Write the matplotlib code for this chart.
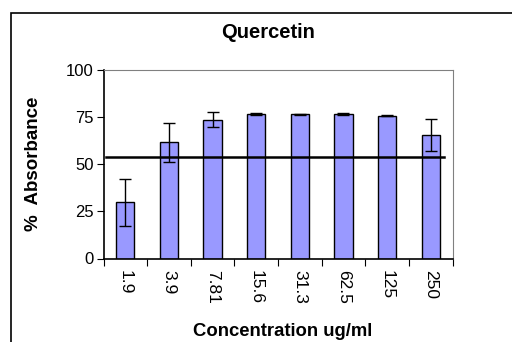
import matplotlib
matplotlib.use("Agg")
import matplotlib.pyplot as plt
from matplotlib.patches import Rectangle

plt.rcParams['font.family'] = ['Liberation Sans', 'DejaVu Sans']

# concentrations (ug/ml) and mean % absorbance with error
conc = ['1.9', '3.9', '7.81', '15.6', '31.3', '62.5', '125', '250']
absorb = [29.7, 61.6, 73.4, 76.3, 76.3, 76.3, 75.6, 65.3]
err = [12.6, 10.3, 4.0, 0.5, 0.2, 0.5, 0.2, 8.5]
ref_level = 53.9

fig = plt.figure(figsize=(5.12, 3.42), dpi=100)
ax = fig.add_axes([103.5/512, 1 - 258.5/342, 349/512, 189/342])

x = range(len(conc))
ax.bar(x, absorb, width=0.42, color='#9999FF', edgecolor='black', linewidth=1.0, zorder=2)
ax.errorbar(x, absorb, yerr=err, fmt='none', ecolor='black', elinewidth=1.0,
            capsize=4, capthick=1.0, zorder=3)
ax.plot([-0.44, 7.3], [ref_level, ref_level], color='black', linewidth=1.8, zorder=4)

ax.set_xlim(-0.5, 7.5)
ax.set_ylim(0, 100)
ax.set_yticks([0, 25, 50, 75, 100])
ax.tick_params(axis='y', labelsize=12, length=5, direction='out', pad=2)

ax.set_xticks([i + 0.5 for i in range(-1, 8)], minor=False)
ax.set_xticklabels([])
ax.set_xticks(list(x), minor=True)
ax.set_xticklabels(conc, minor=True, rotation=270, fontsize=12.5)
ax.tick_params(axis='x', which='major', length=5, direction='out')
ax.tick_params(axis='x', which='minor', length=0, pad=8)

for s in ['top', 'right']:
    ax.spines[s].set_color('#808080')
for s in ['left', 'bottom']:
    ax.spines[s].set_linewidth(1.2)

fig.text(268/512, 1 - 33/342, 'Quercetin', ha='center', va='center',
         fontsize=14.5, fontweight='bold')
fig.text(33/512, 1 - 164/342, '%  Absorbance', ha='center', va='center',
         rotation=90, fontsize=13.5, fontweight='bold')
fig.text(283/512, 1 - 332/342, 'Concentration ug/ml', ha='center', va='center',
         fontsize=13.3, fontweight='bold')

fig.patches.append(Rectangle((11/512, -0.1), 1.2, 1 - 12.7/342 + 0.1,
                             transform=fig.transFigure, fill=False,
                             edgecolor='black', linewidth=1.2))

fig.savefig('out.png', dpi=100)
